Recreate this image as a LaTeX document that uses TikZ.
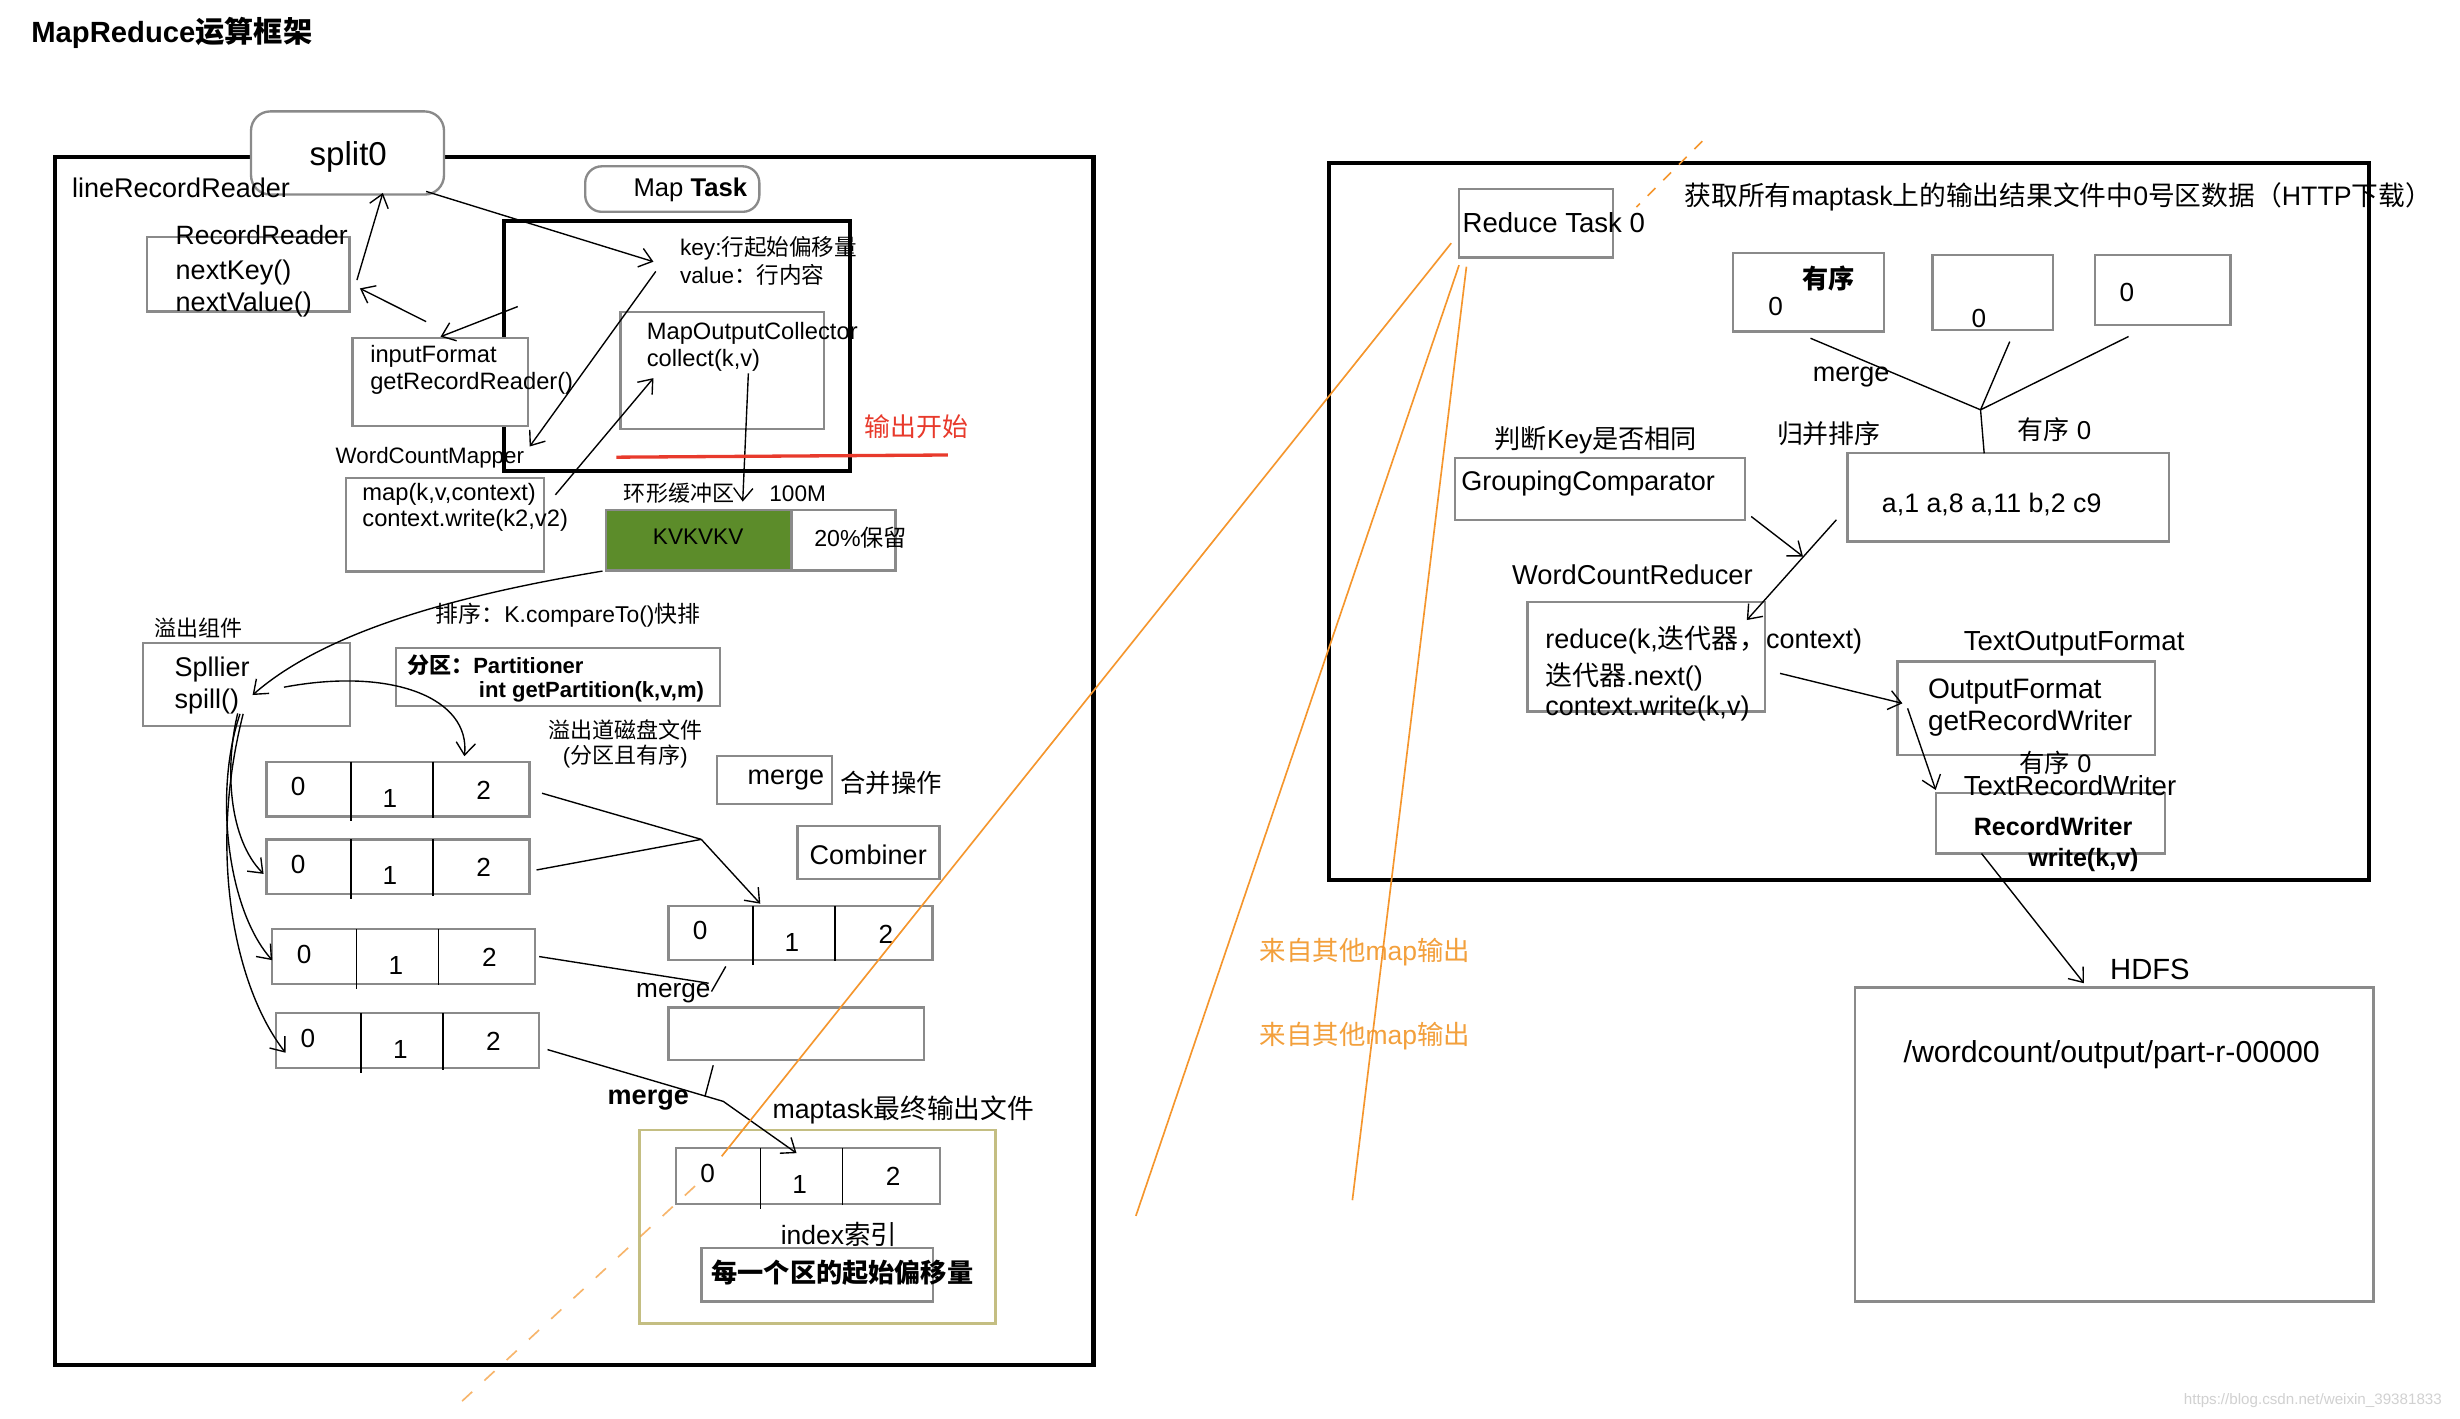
\documentclass[tikz,border=0pt]{standalone}
\usepackage{fontspec}
\setmainfont{Liberation Sans}
\newfontfamily\cjk{Noto Sans CJK SC}
\newcommand\zh[1]{{\cjk #1}}
\usetikzlibrary{arrows.meta,fit}
\definecolor{boxgray}{RGB}{138,138,138}
\definecolor{kvgreen}{RGB}{92,140,42}
\definecolor{olivebox}{RGB}{196,190,130}
\definecolor{redline}{RGB}{232,58,44}
\definecolor{orangeline}{RGB}{245,150,45}
\definecolor{orangetext}{RGB}{243,160,60}
\begin{document}
\begin{tikzpicture}[x=0.02cm,y=-0.02cm,
  box/.style={draw=boxgray,line width=0.85pt,inner sep=0pt,outer sep=0pt},
  frame/.style={draw=black,line width=1.5pt,inner sep=0pt,outer sep=0pt},
  t/.style={inner sep=0pt,outer sep=0pt,anchor=west,font=\fontsize{#1}{#1}\selectfont},
  t/.default=9.8,
  tc/.style={inner sep=0pt,outer sep=0pt,anchor=center,font=\fontsize{#1}{#1}\selectfont},
  tc/.default=9.8,
  ln/.style={line width=0.5pt},
  arr/.style={line width=0.5pt,-{Straight Barb[length=4.5pt,width=7pt]}},
  org/.style={draw=orangeline,line width=0.6pt},
]
\useasboundingbox[fill=white] (0,0) rectangle (1568,904);

% ---------- frames ----------
\node[frame,fit={(35,100)(697,870)}] (mapframe) {};
\node[frame,fit={(321,141)(542,300)}] (mtinner) {};
\node[frame,fit={(847,104)(1510,561)}] (redframe) {};

% ---------- title ----------
\node[t=10.6] (title) at (20,21) {\bfseries MapReduce\zh{运算框架}};

% ---------- map side boxes ----------
\node[box,rounded corners=7pt,fill=white,fit={(160,71)(283,124)}] (splitbox) {};
\node[tc=12] (split) at (222,100) {split0};
\node[box,rounded corners=6pt,fit={(373,106)(484,135)}] (mtbox) {};
\node[tc=9.3] (mt) at (440,121) {Map {\bfseries Task}};
\node[box,fit={(93.6,151)(222.8,198.6)}] (rrbox) {};
\node[box,fill=white,fit={(224.7,215.6)(336.6,271.5)}] (ifbox) {};
\node[box,fit={(395.4,199)(525.2,273.6)}] (mocbox) {};
\node[box,fit={(220.5,304.8)(346.7,364.3)}] (mapbox) {};
\node[box,fill=kvgreen,fit={(386.3,325)(504.4,363.7)}] (kvbox) {};
\node[box,fit={(504.4,325)(570.7,363.7)}] (pctbox) {};
\node[box,fit={(91.2,410)(223,462.7)}] (splbox) {};
\node[box,fit={(252.2,413.2)(459,450)}] (partbox) {};
\node[box,fit={(457.2,482)(530.4,512.4)}] (mergebox) {};
\node[box,fit={(508.4,526.5)(598.8,560.4)}] (combbox) {};
\node[box,fit={(426,642.2)(588.9,675.6)}] (emptybox) {};
\node[draw=olivebox,line width=1pt,inner sep=0pt,fit={(407.4,720.2)(634.7,843.8)}] (finalbox) {};
\node[box,fit={(447.1,795.6)(594.8,829.6)}] (idxbox) {};

\foreach \n/\xa/\xb/\xc/\xd/\ya/\yb in {
  r1/169.8/223.6/276/337.5/485.5/520.5,
  r2/169.8/223.6/276/337.5/535/569.8,
  r3/173.5/227.3/279.6/341.1/592.3/627.1,
  r4/176/230.2/282.2/343.7/645.8/680.9,
  rm/426/479.8/532.3/594.4/577.4/611.8,
  rf/430.8/484.7/537/599/731.9/767.3}{
  \node[box,fit={(\xa,\ya)(\xd,\yb)}] (\n) {};
  \draw[line width=0.6pt] (\xb,\ya) -- (\xb,\yb+3);
  \draw[line width=0.6pt] (\xc,\ya) -- (\xc,\yb+1);
  \node[tc=9.5] (\n-0) at (\xa+20.3,\ya+15.8) {0};
  \node[tc=9.5] (\n-1) at (\xb+25,\ya+23.2) {1};
  \node[tc=9.5] (\n-2) at (\xc+32.3,\ya+18) {2};
}

% ---------- map side texts ----------
\node[t] (lrr) at (46,120) {lineRecordReader};
\node[t=9.6] (rrt) at (112,150) {RecordReader};
\node[t] (nk) at (112,174) {nextKey()};
\node[t] (nv) at (112,194.4) {nextValue()};
\node[t=8.2] (kt) at (433.5,158.3) {key:\zh{行起始偏移量}};
\node[t=8.2] (vt) at (433.5,175.3) {value\zh{：行内容}};
\node[t=8.6] (moct) at (412.3,212.4) {MapOutputCollector};
\node[t=8.6] (colt) at (412.3,229.4) {collect(k,v)};
\node[t=8.6] (ift) at (236,227.3) {inputFormat};
\node[t=8.6] (grr) at (236,244.3) {getRecordReader()};
\node[t=8.1] (wcm) at (214,292) {WordCountMapper};
\node[t=8.6] (mapt) at (231,315.4) {map(k,v,context)};
\node[t=8.6] (cw) at (231,331.8) {context.write(k2,v2)};
\node[t=9.4,text=redline] (outstart) at (551.2,272) {\zh{输出开始}};
\node[t=8] (ring) at (397.7,314.4) {\zh{环形缓冲区}};
\node[t=8.2] (m100) at (490.4,314.4) {100M};
\node[tc=8.2] (kvt) at (445,342) {KVKVKV};
\node[t=8.4] (pct) at (519,343) {20\%\zh{保留}};
\node[t=8.3] (sortt) at (277.8,392) {\zh{排序：}K.compareTo()\zh{快排}};
\node[t=8] (spc) at (98.5,400.5) {\zh{溢出组件}};
\node[t] (spl) at (111.3,427) {Spllier};
\node[t] (spf) at (111.3,447.2) {spill()};
\node[t=8] (part1) at (259.5,424) {\bfseries\zh{分区：}Partitioner};
\node[t=8] (part2) at (305.3,441) {\bfseries int getPartition(k,v,m)};
\node[tc=8] (sf1) at (398.6,465.3) {\zh{溢出道磁盘文件}};
\node[tc=8] (sf2) at (398.6,482.3) {(\zh{分区且有序})};
\node[t] (mgt) at (476.5,497.2) {merge};
\node[t=9.2] (mgo) at (535.8,499.3) {\zh{合并操作}};
\node[tc] (cmbt) at (553.4,545) {Combiner};
\node[t=9.5] (mg2) at (405.5,633) {merge};
\node[tc] (mg3) at (413.2,701) {\bfseries merge};
\node[t=9.7] (mtf) at (492.4,707.4) {maptask\zh{最终输出文件}};
\node[t=9.6] (idx) at (497.7,787.1) {index\zh{索引}};
\node[t=9.5] (offs) at (453.5,811.5) {\bfseries\zh{每一个区的起始偏移量}};

% ---------- reduce side boxes ----------
\node[box,fit={(930,120.6)(1028,164.2)}] (rtbox) {};
\node[box,fit={(1104.4,161.4)(1201,211.3)}] (b1) {};
\node[box,fit={(1231.7,162.5)(1308.6,210.3)}] (b2) {};
\node[box,fit={(1335.5,162.5)(1421.7,207.1)}] (b3) {};
\node[box,fit={(1177.5,288.9)(1382.6,345.1)}] (a1box) {};
\node[box,fit={(927.6,292)(1112.4,331.3)}] (gcbox) {};
\node[box,fit={(973.6,383.5)(1124.8,453.6)}] (redbox) {};
\node[box,fit={(1209.4,421.7)(1373.6,481.2)}] (ofbox) {};
\node[box,fit={(1233.8,505.6)(1380.1,543.9)}] (rwbox) {};
\node[box,fit={(1182.3,629.5)(1512.8,829.6)}] (hdfsbox) {};

% ---------- reduce side texts ----------
\node[t=10] (rtt) at (932.3,142) {Reduce Task 0};
\node[t=9.7] (fetch) at (1073.8,125.3) {\zh{获取所有}maptask\zh{上的输出结果文件中}0\zh{号区数据（}HTTP\zh{下载）}};
\node[tc=9.5] (ord1) at (1165.7,177.3) {\bfseries\zh{有序}};
\node[tc=9.5] (z1) at (1131.8,195.4) {0};
\node[tc=9.5] (z2) at (1261.4,202.8) {0};
\node[tc=9.5] (z3) at (1355.7,186.5) {0};
\node[tc] (rmg) at (1179.9,240) {merge};
\node[tc=9.4] (gbpx) at (1165.7,276.1) {\zh{归并排序}};
\node[tc=9.4] (ord2) at (1309.5,274) {\zh{有序} 0};
\node[tc=9.7] (a1t) at (1269.5,321.8) {a,1 a,8 a,11 b,2 c9};
\node[tc=9.5] (pdk) at (1017.2,280.4) {\zh{判断}Key\zh{是否相同}};
\node[t] (gct) at (931.4,308) {GroupingComparator};
\node[t=9.9] (wcr) at (963.8,366.5) {WordCountReducer};
\node[t] (red1) at (985,408) {reduce(k,\zh{迭代器，}context)};
\node[t] (red2) at (985,431.3) {\zh{迭代器}.next()};
\node[t] (red3) at (985,451.5) {context.write(k,v)};
\node[t=10] (tof) at (1251.7,410) {TextOutputFormat};
\node[t=10.2] (oft) at (1228.9,440.8) {OutputFormat};
\node[t=10.2] (grw) at (1228.9,461) {getRecordWriter};
\node[tc=9.2] (ord3) at (1310.2,486.5) {\zh{有序} 0};
\node[t=10] (trw) at (1251.7,501) {TextRecordWriter};
\node[tc=9.1] (rwt) at (1308.6,526.9) {\bfseries RecordWriter};
\node[tc=9.1] (wkv) at (1328,548.1) {\bfseries write(k,v)};
\node[t=10.6] (hdfs) at (1345,618) {HDFS};
\node[tc=11] (path) at (1346,672) {/wordcount/output/part-r-00000};
\node[t=9.6,text=orangetext] (ot1) at (803,606.6) {\zh{来自其他}map\zh{输出}};
\node[t=9.6,text=orangetext] (ot2) at (803,660.7) {\zh{来自其他}map\zh{输出}};
\node[t=5.5,text=black!18] (wm) at (1392,893) {https://blog.csdn.net/weixin\_39381833};

% ---------- connector end points ----------
\coordinate (c1a) at (227.5,178.5); \coordinate (c1b) at (244,123);
\coordinate (c2a) at (271.6,122);   \coordinate (c2b) at (416.5,166.8);
\coordinate (c3a) at (271.6,205);   \coordinate (c3b) at (229.4,183.8);
\coordinate (c4a) at (330,195.4);   \coordinate (c4b) at (280.8,214.6);
\coordinate (c5a) at (418,173);     \coordinate (c5b) at (337.6,284.6);
\coordinate (c6a) at (354,315.4);   \coordinate (c6b) at (416.5,241);
\coordinate (c7a) at (477,238);     \coordinate (c7b) at (473.4,319.7);
\coordinate (c8a) at (384,364);     \coordinate (c8b) at (161,443);
\coordinate (c9a) at (181,438);     \coordinate (c9b) at (296,482);
\coordinate (s2a) at (151.5,454.7); \coordinate (s2b) at (168,557);
\coordinate (s3a) at (153,455);     \coordinate (s3b) at (173.5,612);
\coordinate (s4a) at (155,455);     \coordinate (s4b) at (182,671);
\coordinate (j1) at (447,535);
\coordinate (r1o) at (345.5,505.6); \coordinate (r2o) at (342,554.5);
\coordinate (rmi) at (484.6,576);
\coordinate (r3o) at (343.7,609.7); \coordinate (r3e) at (451.7,626.7);
\coordinate (rmb) at (462.6,616);   \coordinate (rmbe) at (453.5,632);
\coordinate (r4o) at (349,669);     \coordinate (r4k) at (461,702); \coordinate (rfi) at (507.7,735);
\coordinate (ebb) at (454.6,679);   \coordinate (ebe) at (449.3,699);
\coordinate (rl1) at (392.8,291.4); \coordinate (rl2) at (604.2,290);
\coordinate (b1o) at (1154,215.6);  \coordinate (b2o) at (1281,217.7); \coordinate (b3o) at (1356.7,214.5);
\coordinate (mj) at (1262.4,261.2); \coordinate (a1i) at (1264.7,288.9);
\coordinate (gco) at (1116.2,329.2); \coordinate (gce) at (1149.2,354.7);
\coordinate (a1o) at (1170.5,331.3); \coordinate (redi) at (1113.4,395.2);
\coordinate (redo) at (1134.6,429.2); \coordinate (ofi) at (1212.6,448.3);
\coordinate (ofo) at (1215.9,451.5); \coordinate (rwi) at (1233.8,503.5);
\coordinate (rwo) at (1263,544);    \coordinate (hdi) at (1328.3,626.7);
\coordinate (o1a) at (1085,90);     \coordinate (o1b) at (1043,132);
\coordinate (o1c) at (925,155);     \coordinate (o1d) at (460,737);
\coordinate (o1e) at (443,756);     \coordinate (o1f) at (287,900);
\coordinate (o2a) at (930,169);     \coordinate (o2b) at (724,775);
\coordinate (o3a) at (934.7,170);   \coordinate (o3b) at (862,765);

% ---------- connectors ----------
\draw[arr] (c1a) -- (c1b);
\draw[arr] (c2a) -- (c2b);
\draw[arr] (c3a) -- (c3b);
\draw[arr] (c4a) -- (c4b);
\draw[arr] (c5a) -- (c5b);
\draw[arr] (c6a) -- (c6b);
\draw[arr] (c7a) -- (c7b);
\draw[arr] (c8a) .. controls (300,378) and (210,400) .. (c8b);
\draw[arr] (c9a) .. controls (250,425) and (300,445) .. (c9b);
\draw[arr] (s2a) .. controls (143,490) and (146,535) .. (s2b);
\draw[arr] (s3a) .. controls (136,505) and (145,580) .. (s3b);
\draw[arr] (s4a) .. controls (132,545) and (150,630) .. (s4b);
\draw[ln] (r1o) -- (j1);
\draw[ln] (r2o) -- (j1);
\draw[arr] (j1) -- (rmi);
\draw[ln] (r3o) -- (r3e);
\draw[ln] (rmb) -- (rmbe);
\draw[arr] (r4o) -- (r4k) -- (rfi);
\draw[ln] (ebb) -- (ebe);
\draw[redline,line width=1.2pt] (rl1) -- (rl2);

\draw[ln] (b1o) -- (mj);
\draw[ln] (b2o) -- (mj);
\draw[ln] (b3o) -- (mj);
\draw[ln] (mj) -- (a1i);
\draw[arr] (gco) -- (gce);
\draw[arr] (a1o) -- (redi);
\draw[arr] (redo) -- (ofi);
\draw[arr] (ofo) -- (rwi);
\draw[arr] (rwo) -- (hdi);

% ---------- orange lines ----------
\draw[org,dash pattern=on 4pt off 4pt] (o1a) -- (o1b);
\draw[org] (o1c) -- (o1d);
\draw[org,dash pattern=on 5pt off 6pt,opacity=0.7] (o1e) -- (o1f);
\draw[org] (o2a) -- (o2b);
\draw[org] (o3a) -- (o3b);
\end{tikzpicture}
\end{document}
